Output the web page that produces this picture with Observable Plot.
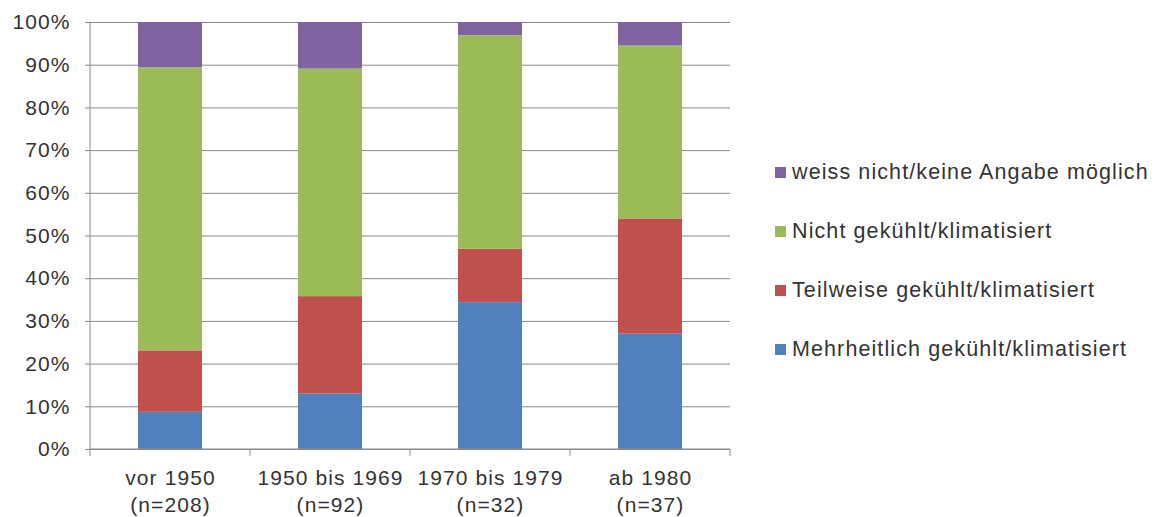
<!DOCTYPE html>
<html>
<head>
<meta charset="utf-8">
<script src="https://cdn.jsdelivr.net/npm/d3@7"></script>
<script src="https://cdn.jsdelivr.net/npm/@observablehq/plot@0.6"></script>
<style>
  body { margin: 0; background: #fff; }
  #wrap { position: relative; width: 1157px; height: 517px; font-family: "Liberation Sans", Arial, sans-serif; color: #333; }
  #legend { position: absolute; left: 775px; top: 160px; display: flex; flex-direction: column; gap: 35px; }
  .item { display: flex; align-items: center; height: 24px; font-size: 21.5px; letter-spacing: 1.1px; color: #333; white-space: nowrap; }
  .sw { width: 11px; height: 11px; margin-right: 6px; flex: none; }
</style>
</head>
<body>
<div id="wrap"><div id="legend"></div></div>
<script>
const categories = ["vor 1950", "1950 bis 1969", "1970 bis 1979", "ab 1980"];
const sampleSizes = ["(n=208)", "(n=92)", "(n=32)", "(n=37)"];
const seriesNames = [
  "Mehrheitlich gekühlt/klimatisiert",
  "Teilweise gekühlt/klimatisiert",
  "Nicht gekühlt/klimatisiert",
  "weiss nicht/keine Angabe möglich"
];
const seriesColors = ["#4F81BD", "#C0504D", "#9BBB59", "#8064A2"];
const mehrheitlich = [8.7, 13.0, 34.4, 27.0];
const teilweise = [14.4, 22.8, 12.5, 27.0];
const nichtGekuehlt = [66.3, 53.3, 50.0, 40.5];
const weissNicht = [10.6, 10.9, 3.1, 5.5];
const yTicks = [0, 10, 20, 30, 40, 50, 60, 70, 80, 90, 100];

const gridColor = "#8a8a8a";
const seriesValues = [mehrheitlich, teilweise, nichtGekuehlt, weissNicht];
const rows = categories.flatMap((c, i) =>
  seriesNames.map((s, j) => ({cat: c, series: s, value: seriesValues[j][i]}))
);

function axisLines(index, scales, values, dims) {
  const x = scales.x, y = scales.y;
  const bw = typeof x.bandwidth === "function" ? x.bandwidth() : x.bandwidth;
  const step = x(categories[1]) - x(categories[0]);
  const half = (step - bw) / 2;
  const bounds = categories.map(c => x(c) - half);
  bounds.push(x(categories[categories.length - 1]) + bw + half);
  const y0 = y(0), y1 = y(100);
  const g = d3.create("svg:g").attr("stroke", gridColor).attr("stroke-width", 1).attr("fill", "none");
  g.append("line").attr("x1", bounds[0]).attr("x2", bounds[0]).attr("y1", y1).attr("y2", y0 + 7);
  g.append("line").attr("x1", bounds[0]).attr("x2", bounds[bounds.length - 1]).attr("y1", y0).attr("y2", y0);
  for (const b of bounds.slice(1)) {
    g.append("line").attr("x1", b).attr("x2", b).attr("y1", y0).attr("y2", y0 + 7);
  }
  return g.node();
}

const chart = Plot.plot({
  width: 1157,
  height: 517,
  marginLeft: 90,
  marginRight: 427,
  marginTop: 22,
  marginBottom: 68,
  style: {fontFamily: "'Liberation Sans', Arial, sans-serif", fontSize: "21px", color: "#333", letterSpacing: "1.1px", background: "#fff"},
  x: {domain: categories, paddingInner: 0.6, paddingOuter: 0.3},
  y: {domain: [0, 100]},
  color: {domain: seriesNames, range: seriesColors},
  marks: [
    Plot.gridY({ticks: yTicks, stroke: gridColor, strokeOpacity: 1}),
    Plot.barY(rows, {x: "cat", y: "value", fill: "series"}),
    axisLines,
    Plot.axisY({ticks: yTicks, tickFormat: d => d + "%", tickSize: 5, tickPadding: 15, stroke: gridColor, strokeOpacity: 1, label: null}),
    Plot.axisX({tickSize: 0, tickPadding: 16, lineHeight: 1.3, tickFormat: d => d + "\n" + sampleSizes[categories.indexOf(d)], label: null})
  ]
});
document.getElementById("wrap").prepend(chart);

const legend = document.getElementById("legend");
for (let j = seriesNames.length - 1; j >= 0; j--) {
  const item = document.createElement("div");
  item.className = "item";
  const sw = document.createElement("span");
  sw.className = "sw";
  sw.style.background = seriesColors[j];
  const t = document.createElement("span");
  t.textContent = seriesNames[j];
  item.append(sw, t);
  legend.append(item);
}
</script>
</body>
</html>
